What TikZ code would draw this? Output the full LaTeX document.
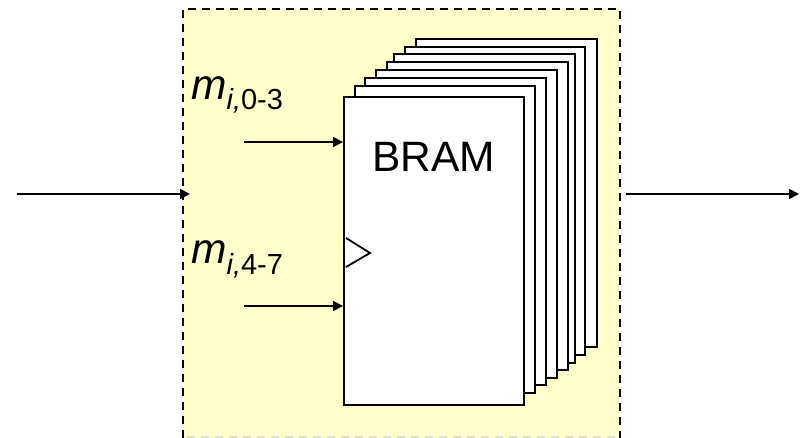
\documentclass[tikz,border=0pt]{standalone}
\usepackage{fontspec}
\setmainfont{Liberation Sans}
\usetikzlibrary{arrows.meta}
\definecolor{paleyellow}{HTML}{FFFFCC}
\tikzset{
  x=1pt,y=-1pt,
  sheet/.style={draw=black,fill=white,line width=2pt},
  wire/.style={draw=black,line width=1.7pt,-{Triangle[length=10pt,width=10pt]}},
  border/.style={draw=black,line width=1.7pt,dash pattern=on 8pt off 6pt},
  lbl/.style={inner sep=0pt,anchor=base west},
  big/.style={font=\fontsize{42.5}{46}\selectfont},
}
\newcommand{\mlabel}[1]{\textit{m}\raisebox{-10pt}{\fontsize{29}{31}\selectfont\textit{i,}#1}}
\begin{document}
\begin{tikzpicture}
\useasboundingbox (0,0) rectangle (800,438);
\fill[paleyellow] (183,9) rectangle (620,438);
\draw[border] (183,438) -- (183,9) -- (620,9) -- (620,438);
\draw[draw=black!12,line width=1.3pt,dash pattern=on 8pt off 6pt] (187,437) -- (620,437);
\path[sheet] (416,39) rectangle (597,347);
\path[sheet] (405,47) rectangle (585,355);
\path[sheet] (394,54) rectangle (575,363);
\path[sheet] (387,62) rectangle (568,370);
\path[sheet] (376,70) rectangle (557,378);
\path[sheet] (365,78) rectangle (546,385);
\path[sheet] (355,86) rectangle (535,393);
\path[sheet] (344,97) rectangle (524,405);
\coordinate (inL) at (17,194);
\coordinate (inR) at (190,194);
\coordinate (outL) at (626,194);
\coordinate (outR) at (799,194);
\coordinate (a0) at (244,142);
\coordinate (a1) at (343,142);
\coordinate (b0) at (244,306);
\coordinate (b1) at (343,306);
\draw[wire] (inL) -- (inR);
\draw[wire] (outL) -- (outR);
\draw[wire] (a0) -- (a1);
\draw[wire] (b0) -- (b1);
\draw[draw=black,line width=1.8pt] (346,238) -- (370,253) -- (346,267);
\node[lbl,big] (bram) at (372,172) {BRAM};
\node[lbl,big] (m0) at (191,100) {\mlabel{0-3}};
\node[lbl,big] (m1) at (191,264) {\mlabel{4-7}};
\end{tikzpicture}
\end{document}
